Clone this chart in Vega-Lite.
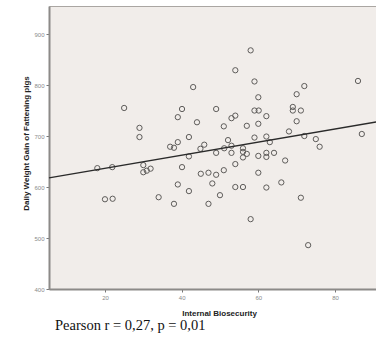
{
  "$schema": "https://vega.github.io/schema/vega-lite/v6.json",
  "width": 328,
  "height": 283,
  "autosize": "none",
  "padding": {"left": 49, "top": 6, "right": 0, "bottom": 53},
  "background": "#ffffff",
  "config": {
    "view": {"fill": "#f1edea", "stroke": "#aaa6a2", "strokeWidth": 1},
    "font": "Liberation Sans"
  },
  "title": {
    "text": "Pearson r = 0,27, p = 0,01",
    "orient": "bottom",
    "anchor": "start",
    "font": "Liberation Serif",
    "fontSize": 14.5,
    "fontWeight": "normal",
    "color": "#111111",
    "offset": 2,
    "dx": 33
  },
  "datasets": {
    "pts": [
      {"bio": 43.0, "gain": 796}, {"bio": 25.0, "gain": 755}, {"bio": 40.1, "gain": 753}, {"bio": 49.0, "gain": 753},
      {"bio": 39.0, "gain": 737}, {"bio": 44.0, "gain": 727}, {"bio": 29.0, "gain": 716}, {"bio": 29.0, "gain": 698},
      {"bio": 41.9, "gain": 698}, {"bio": 39.0, "gain": 688}, {"bio": 37.0, "gain": 679}, {"bio": 38.0, "gain": 677},
      {"bio": 45.9, "gain": 683}, {"bio": 44.9, "gain": 675}, {"bio": 49.0, "gain": 667}, {"bio": 41.9, "gain": 660},
      {"bio": 58.0, "gain": 868}, {"bio": 54.0, "gain": 829}, {"bio": 59.0, "gain": 807}, {"bio": 72.0, "gain": 798},
      {"bio": 86.0, "gain": 808}, {"bio": 70.0, "gain": 782}, {"bio": 60.0, "gain": 776}, {"bio": 59.0, "gain": 750},
      {"bio": 60.1, "gain": 750}, {"bio": 69.0, "gain": 757}, {"bio": 69.0, "gain": 750}, {"bio": 71.1, "gain": 750},
      {"bio": 53.0, "gain": 735}, {"bio": 54.0, "gain": 740}, {"bio": 62.1, "gain": 739}, {"bio": 70.0, "gain": 729},
      {"bio": 51.0, "gain": 719}, {"bio": 57.0, "gain": 720}, {"bio": 60.0, "gain": 724}, {"bio": 68.0, "gain": 709},
      {"bio": 87.0, "gain": 704}, {"bio": 72.0, "gain": 700}, {"bio": 59.0, "gain": 697}, {"bio": 62.1, "gain": 699},
      {"bio": 63.0, "gain": 688}, {"bio": 75.0, "gain": 694}, {"bio": 76.0, "gain": 679}, {"bio": 52.1, "gain": 692},
      {"bio": 53.0, "gain": 681}, {"bio": 51.1, "gain": 676}, {"bio": 53.0, "gain": 667}, {"bio": 56.0, "gain": 676},
      {"bio": 56.0, "gain": 669}, {"bio": 57.0, "gain": 665}, {"bio": 56.0, "gain": 658}, {"bio": 60.0, "gain": 661},
      {"bio": 62.1, "gain": 667}, {"bio": 62.1, "gain": 659}, {"bio": 64.1, "gain": 667}, {"bio": 67.0, "gain": 652},
      {"bio": 45.0, "gain": 626}, {"bio": 47.0, "gain": 628}, {"bio": 49.0, "gain": 624}, {"bio": 51.0, "gain": 633},
      {"bio": 54.0, "gain": 645}, {"bio": 60.0, "gain": 628}, {"bio": 48.0, "gain": 607}, {"bio": 54.0, "gain": 600},
      {"bio": 56.0, "gain": 600}, {"bio": 62.1, "gain": 599}, {"bio": 66.0, "gain": 609}, {"bio": 50.0, "gain": 584},
      {"bio": 47.0, "gain": 567}, {"bio": 71.1, "gain": 579}, {"bio": 58.0, "gain": 537}, {"bio": 73.0, "gain": 486},
      {"bio": 18.0, "gain": 637}, {"bio": 21.9, "gain": 639}, {"bio": 30.0, "gain": 643}, {"bio": 30.0, "gain": 629},
      {"bio": 30.9, "gain": 632}, {"bio": 31.9, "gain": 636}, {"bio": 40.1, "gain": 639}, {"bio": 39.0, "gain": 605},
      {"bio": 41.9, "gain": 592}, {"bio": 20.0, "gain": 576}, {"bio": 22.0, "gain": 577}, {"bio": 34.0, "gain": 580},
      {"bio": 38.0, "gain": 567}
    ],
    "fit": [
      {"bio": 5.4, "gain": 618},
      {"bio": 90.96, "gain": 727.8}
    ]
  },
  "layer": [
    {
      "data": {"name": "pts"},
      "mark": {"type": "point", "shape": "circle", "filled": false, "size": 28, "stroke": "#5e5c5a", "strokeWidth": 1, "opacity": 1},
      "encoding": {
        "x": {
          "field": "bio", "type": "quantitative",
          "scale": {"domain": [5.4, 90.96], "nice": false, "zero": false},
          "axis": {
            "title": "Internal Biosecurity",
            "values": [20, 40, 60, 80],
            "grid": false,
            "domainColor": "#8c8a88", "domainWidth": 2,
            "tickColor": "#777777", "tickSize": 3,
            "labelColor": "#8a8a8a", "labelFontSize": 6, "labelPadding": 2,
            "titleFontSize": 8, "titleFontWeight": "bold", "titleColor": "#222222",
            "titleX": 170, "titleY": 24, "titleBaseline": "middle", "titleAlign": "center"
          }
        },
        "y": {
          "field": "gain", "type": "quantitative",
          "scale": {"domain": [400, 955], "nice": false, "zero": false},
          "axis": {
            "title": "Daily Weight Gain of Fattening pigs",
            "values": [400, 500, 600, 700, 800, 900],
            "grid": false,
            "domainColor": "#8c8a88", "domainWidth": 2,
            "tickColor": "#777777", "tickSize": 3,
            "labelColor": "#8a8a8a", "labelFontSize": 6, "labelPadding": 2,
            "titleFontSize": 8, "titleFontWeight": "bold", "titleColor": "#222222",
            "titleX": -23, "titleY": 137, "titleBaseline": "middle", "titleAlign": "center", "titleAngle": -90
          }
        }
      }
    },
    {
      "data": {"name": "fit"},
      "mark": {"type": "line", "color": "#2a2a2a", "strokeWidth": 1.4},
      "encoding": {
        "x": {"field": "bio", "type": "quantitative"},
        "y": {"field": "gain", "type": "quantitative"}
      }
    }
  ]
}
